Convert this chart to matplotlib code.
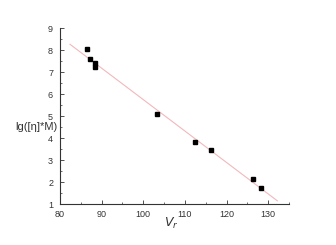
import numpy as np
import matplotlib
matplotlib.use("Agg")
import matplotlib.pyplot as plt
from matplotlib.ticker import MultipleLocator

vr = [86.4, 87.1, 88.3, 88.5, 103.2, 112.5, 116.3, 126.3, 128.2]
lg_eta_m = [8.03, 7.58, 7.39, 7.23, 5.09, 3.82, 3.44, 2.14, 1.73]
fit_range = [82.4, 132.2]

plt.rcParams["font.family"] = ["Liberation Sans", "DejaVu Sans"]

fig = plt.figure(figsize=(3.36, 2.45), dpi=100)
ax = fig.add_axes([0.1786, 0.1673, 0.6815, 0.7184])

coef = np.polyfit(vr, lg_eta_m, 1)
fx = np.array(fit_range)
ax.plot(fx, np.polyval(coef, fx), color="#f2b8bc", lw=0.8, zorder=1)
ax.plot(vr, lg_eta_m, "s", color="black", ms=3.2, zorder=2)

ax.set_xlim(80, 135)
ax.set_ylim(1, 9)
ax.xaxis.set_major_locator(MultipleLocator(10))
ax.xaxis.set_minor_locator(MultipleLocator(5))
ax.yaxis.set_major_locator(MultipleLocator(1))
ax.yaxis.set_minor_locator(MultipleLocator(0.5))
for s in ["top", "right"]:
    ax.spines[s].set_visible(False)
for s in ["left", "bottom"]:
    ax.spines[s].set_linewidth(0.8)
    ax.spines[s].set_color("#333333")
ax.tick_params(axis="x", which="major", pad=4)
ax.tick_params(axis="y", which="major", pad=5)
ax.tick_params(which="major", direction="in", length=3, width=0.6, labelsize=6.5, colors="#333333")
ax.tick_params(which="minor", direction="in", length=1.5, width=0.5, colors="#333333")

ax.set_xlabel("$V_r$", fontsize=9, color="#333333")
ax.xaxis.set_label_coords(0.485, -0.07)
ax.set_ylabel("lg([η]*M)", fontsize=8, rotation=0, color="#333333",
              ha="right", va="center")
ax.yaxis.set_label_coords(-0.01, 0.4375)

fig.savefig("out.png", dpi=100)
